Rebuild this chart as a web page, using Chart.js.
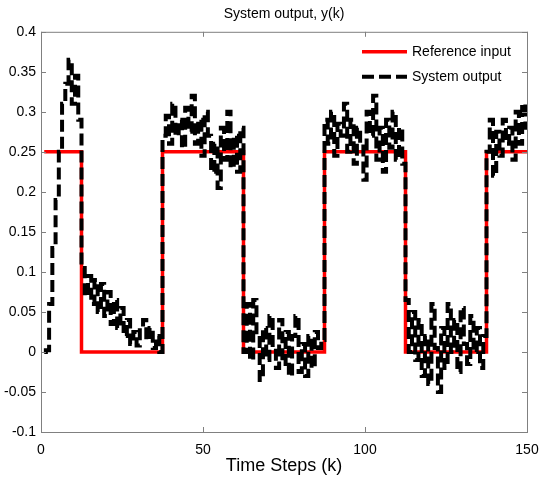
<!DOCTYPE html>
<html>
<head>
<meta charset="utf-8">
<title>System output, y(k)</title>
<script src="https://cdn.jsdelivr.net/npm/chart.js@4/dist/chart.umd.min.js"></script>
<style>
  body { margin: 0; background: #fff; }
  canvas { display: block; }
</style>
</head>
<body>
<canvas id="chart" width="539" height="477"></canvas>
<script>
// time steps k = 1..150
const steps = Array.from({ length: 150 }, (_, i) => i + 1);

// reference input (square wave between 0.25 and 0)
const referenceInput = [
    0.25, 0.25, 0.25, 0.25, 0.25, 0.25, 0.25, 0.25, 0.25, 0.25, 0.25, 0.25,
    0, 0, 0, 0, 0, 0, 0, 0, 0, 0, 0, 0, 0, 0, 0, 0, 0, 0, 0, 0, 0, 0, 0, 0, 0,
    0.25, 0.25, 0.25, 0.25, 0.25, 0.25, 0.25, 0.25, 0.25, 0.25, 0.25, 0.25, 0.25,
    0.25, 0.25, 0.25, 0.25, 0.25, 0.25, 0.25, 0.25, 0.25, 0.25, 0.25, 0.25,
    0, 0, 0, 0, 0, 0, 0, 0, 0, 0, 0, 0, 0, 0, 0, 0, 0, 0, 0, 0, 0, 0, 0, 0, 0,
    0.25, 0.25, 0.25, 0.25, 0.25, 0.25, 0.25, 0.25, 0.25, 0.25, 0.25, 0.25, 0.25,
    0.25, 0.25, 0.25, 0.25, 0.25, 0.25, 0.25, 0.25, 0.25, 0.25, 0.25, 0.25,
    0, 0, 0, 0, 0, 0, 0, 0, 0, 0, 0, 0, 0, 0, 0, 0, 0, 0, 0, 0, 0, 0, 0, 0, 0,
    0.25, 0.25, 0.25, 0.25, 0.25, 0.25, 0.25, 0.25, 0.25, 0.25, 0.25, 0.25, 0.25
];

// system output
const systemOutput = [
    0, 0.002, 0.06, 0.13, 0.19, 0.25, 0.31, 0.335, 0.365, 0.31, 0.345, 0.29,
    0.105, 0.07, 0.095, 0.06, 0.09, 0.05, 0.085, 0.045, 0.075, 0.035, 0.065, 0.03, 0.055,
    0.02, 0.04, 0.01, 0.025, 0.008, 0.03, 0.04, 0.015, 0.03, 0.005, 0.02, 0.0,
    0.27, 0.295, 0.26, 0.31, 0.27, 0.29, 0.255, 0.305, 0.275, 0.32, 0.26, 0.29, 0.245,
    0.3, 0.27, 0.225, 0.26, 0.205, 0.28, 0.24, 0.3, 0.23, 0.27, 0.225, 0.28,
    0.0, 0.06, -0.01, 0.065, 0.02, -0.035, 0.03, -0.01, 0.045, 0.005, -0.02, 0.04, -0.015,
    0.025, -0.03, 0.02, 0.045, -0.025, 0.01, -0.03, 0.02, -0.02, 0.025, 0.005, 0.015,
    0.29, 0.26, 0.3, 0.245, 0.285, 0.27, 0.31, 0.25, 0.29, 0.235, 0.28, 0.26, 0.215,
    0.3, 0.27, 0.32, 0.24, 0.28, 0.225, 0.29, 0.255, 0.3, 0.24, 0.28, 0.235,
    0.065, 0.0, 0.05, -0.01, 0.04, -0.03, 0.02, -0.04, 0.06, 0.005, -0.05, 0.03, -0.02,
    0.06, 0.0, 0.04, -0.025, 0.055, 0.01, -0.015, 0.045, 0.0, 0.03, -0.02, 0.02,
    0.25, 0.29, 0.22, 0.275, 0.245, 0.29, 0.26, 0.28, 0.24, 0.3, 0.26, 0.31, 0.28
];

const xTickLabels = ['0', '50', '100', '150'];
const yTickLabels = ['-0.1', '-0.05', '0', '0.05', '0.1', '0.15', '0.2', '0.25', '0.3', '0.35', '0.4'];

const FONT = 'Liberation Sans, Arial, sans-serif';
const AXIS_GRAY = '#808080';

// center the title over the axes, like matlab does
const titlePlugin = {
    id: 'titleOverAxes',
    afterLayout(chart) {
        const t = chart.titleBlock;
        if (!t) return;
        t.left = chart.chartArea.left;
        t.right = chart.chartArea.right;
        t.width = t.right - t.left;
    }
};

// matlab style box with inward ticks on all four sides
const boxPlugin = {
    id: 'box',
    afterDraw(chart) {
        const { ctx, chartArea: a, scales } = chart;
        ctx.save();
        ctx.strokeStyle = AXIS_GRAY;
        ctx.lineWidth = 1;
        ctx.strokeRect(a.left + 0.5, a.top + 0.5, a.right - a.left, a.bottom - a.top);
        ctx.beginPath();
        scales.x.ticks.forEach(t => {
            const px = Math.round(scales.x.getPixelForValue(t.value)) + 0.5;
            ctx.moveTo(px, a.bottom); ctx.lineTo(px, a.bottom - 5);
            ctx.moveTo(px, a.top); ctx.lineTo(px, a.top + 5);
        });
        scales.y.ticks.forEach(t => {
            const py = Math.round(scales.y.getPixelForValue(t.value)) + 0.5;
            ctx.moveTo(a.left, py); ctx.lineTo(a.left + 5, py);
            ctx.moveTo(a.right, py); ctx.lineTo(a.right - 5, py);
        });
        ctx.stroke();
        ctx.restore();
    }
};

// legend drawn inside the plot, top right
const legendPlugin = {
    id: 'insideLegend',
    afterDraw(chart) {
        const { ctx, chartArea: a } = chart;
        const items = [chart.data.datasets[1], chart.data.datasets[0]];
        const x0 = a.right - 165;
        ctx.save();
        ctx.font = '14px ' + FONT;
        ctx.textBaseline = 'middle';
        items.forEach((ds, i) => {
            const y = a.top + 20 + i * 25;
            ctx.strokeStyle = ds.borderColor;
            ctx.lineWidth = ds.borderWidth;
            ctx.setLineDash(ds.borderDash || []);
            ctx.beginPath();
            ctx.moveTo(x0, y);
            ctx.lineTo(x0 + 45, y);
            ctx.stroke();
            ctx.setLineDash([]);
            ctx.fillStyle = '#000';
            ctx.fillText(ds.label, x0 + 50, y);
        });
        ctx.restore();
    }
};

new Chart(document.getElementById('chart'), {
    type: 'line',
    data: {
        labels: steps,
        datasets: [{
            label: 'System output',
            data: systemOutput,
            borderColor: '#000',
            borderWidth: 4,
            borderDash: [12, 5],
            stepped: 'middle',
            pointRadius: 0,
            fill: false,
            order: 0
        }, {
            label: 'Reference input',
            data: referenceInput,
            borderColor: '#ff0000',
            borderWidth: 3.5,
            stepped: 'middle',
            pointRadius: 0,
            fill: false,
            order: 1
        }]
    },
    options: {
        responsive: false,
        animation: false,
        devicePixelRatio: 1,
        layout: { padding: { right: 12 } },
        plugins: {
            legend: { display: false },
            tooltip: { enabled: false },
            title: {
                display: true,
                text: 'System output, y(k)',
                color: '#000',
                font: { family: FONT, size: 14, weight: 'normal' },
                padding: { top: 6, bottom: 9 }
            }
        },
        scales: {
            x: {
                type: 'linear',
                min: 0,
                max: 150,
                grid: { display: false, drawTicks: false },
                border: { display: false },
                ticks: {
                    stepSize: 50,
                    padding: 10,
                    color: '#000',
                    font: { family: FONT, size: 14 },
                    maxRotation: 0,
                    callback: (v, i) => xTickLabels[i]
                },
                title: {
                    display: true,
                    text: 'Time Steps (k)',
                    color: '#000',
                    font: { family: FONT, size: 18 },
                    padding: { top: 0, bottom: 0 }
                },
                afterFit: scale => {
                    scale.height = 45;
                    scale.paddingRight = 0;
                    scale.paddingLeft = 0;
                }
            },
            y: {
                min: -0.1,
                max: 0.4,
                grid: { display: false, drawTicks: false },
                border: { display: false },
                ticks: {
                    stepSize: 0.05,
                    padding: 5,
                    color: '#000',
                    font: { family: FONT, size: 14 },
                    callback: (v, i) => yTickLabels[i]
                },
                afterFit: scale => { scale.width = 41; }
            }
        }
    },
    plugins: [titlePlugin, boxPlugin, legendPlugin]
});
</script>
</body>
</html>
